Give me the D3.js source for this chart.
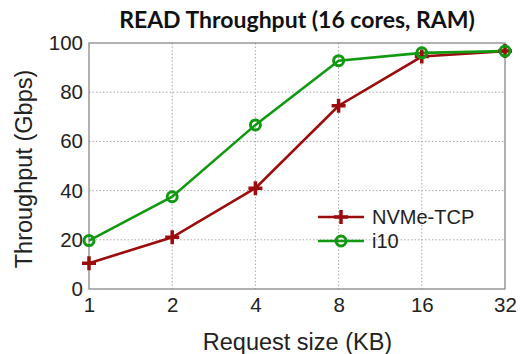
<!DOCTYPE html>
<html><head><meta charset="utf-8">
<script src="https://cdn.jsdelivr.net/npm/d3@7"></script>
<style>body{margin:0;background:#fff}svg{display:block}</style>
</head><body>
<svg id="c" width="520" height="354"></svg>
<script>
const sizes = [1, 2, 4, 8, 16, 32];
const sizeLabels = ["1", "2", "4", "8", "16", "32"];
const nvmeTcp = [10.5, 21, 41, 74.5, 94.5, 96.7];
const i10 = [19.7, 37.5, 66.7, 92.8, 96, 96.7];
const yTicks = [0, 20, 40, 60, 80, 100];
const seriesNames = ["NVMe-TCP", "i10"];
const colors = ["#9b0c0c", "#119911"];

const svg = d3.select("#c");
const L = 89, R = 505, T = 43, B = 289;
const x = d3.scaleLog().base(2).domain([1, 32]).range([L, R]);
const y = d3.scaleLinear().domain([0, 100]).range([B, T]);
const FONT = "Liberation Sans, Arial, sans-serif";

// grid
svg.append("g").selectAll("line").data(yTicks.slice(1, -1)).join("line")
  .attr("x1", L).attr("x2", R).attr("y1", d => y(d)).attr("y2", d => y(d))
  .attr("stroke", "#aaa").attr("stroke-width", 1).attr("stroke-dasharray", "1.5,2");
svg.append("g").selectAll("line").data(sizes.slice(1, -1)).join("line")
  .attr("y1", T).attr("y2", B).attr("x1", d => x(d)).attr("x2", d => x(d))
  .attr("stroke", "#aaa").attr("stroke-width", 1).attr("stroke-dasharray", "1.5,2");

svg.append("rect").attr("x", L).attr("y", T).attr("width", R - L).attr("height", B - T)
  .attr("fill", "none").attr("stroke", "#888").attr("stroke-width", 1.3);

// axes
const ax = svg.append("g").attr("transform", `translate(0,${B})`)
  .call(d3.axisBottom(x).tickValues(sizes).tickFormat((d, i) => sizeLabels[i]).tickSize(0).tickPadding(8));
const ay = svg.append("g").attr("transform", `translate(${L},0)`)
  .call(d3.axisLeft(y).tickValues(yTicks).tickSize(0).tickPadding(6));
[ax, ay].forEach(g => {
  g.select(".domain").remove();
  g.selectAll("text").attr("font-family", FONT)
    .attr("font-size", 20.5).attr("fill", "#222");
});

// lines
const data = [nvmeTcp, i10];
const line = d3.line().x((d, i) => x(sizes[i])).y(d => y(d));
data.forEach((vals, k) => {
  svg.append("path").datum(vals).attr("d", line).attr("fill", "none")
    .attr("stroke", colors[k]).attr("stroke-width", 2.6);
});
function marker(g, k, cx, cy) {
  if (k === 0) {
    g.append("path").attr("d", `M${cx - 7},${cy}H${cx + 7}M${cx},${cy - 7}V${cy + 7}`)
      .attr("stroke", colors[0]).attr("stroke-width", 3.5).attr("fill", "none");
  } else {
    g.append("circle").attr("cx", cx).attr("cy", cy).attr("r", 5)
      .attr("fill", "none").attr("stroke", colors[1]).attr("stroke-width", 3);
  }
}
data.forEach((vals, k) => {
  const g = svg.append("g");
  vals.forEach((v, i) => marker(g, k, x(sizes[i]), y(v)));
});

// legend
seriesNames.forEach((name, k) => {
  const ly = 217 + k * 24;
  svg.append("line").attr("x1", 318).attr("x2", 364).attr("y1", ly).attr("y2", ly)
    .attr("stroke", colors[k]).attr("stroke-width", 2.6);
  marker(svg, k, 341, ly);
  svg.append("text").attr("x", 372).attr("y", ly + 7).text(name)
    .attr("font-family", FONT).attr("font-size", 20).attr("fill", "#222");
});

// titles
svg.append("text").attr("x", 297).attr("y", 28).attr("text-anchor", "middle")
  .attr("font-family", "Lato, sans-serif").attr("font-weight", "bold").attr("font-size", 23)
  .attr("fill", "#111").text("READ Throughput (16 cores, RAM)");
svg.append("text").attr("x", 297.5).attr("y", 350).attr("text-anchor", "middle")
  .attr("font-family", FONT).attr("font-size", 23.5)
  .attr("fill", "#222").text("Request size (KB)");
svg.append("text").attr("transform", `translate(32,169) rotate(-90)`).attr("text-anchor", "middle")
  .attr("font-family", FONT).attr("font-size", 23.5)
  .attr("fill", "#222").text("Throughput (Gbps)");
</script>
</body></html>
